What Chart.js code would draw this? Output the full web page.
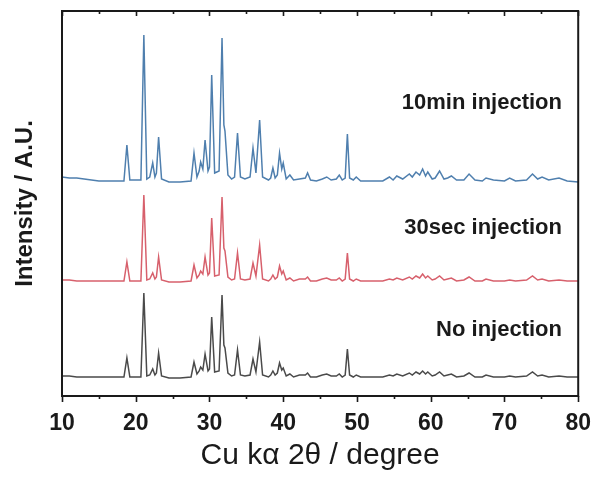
<!DOCTYPE html>
<html>
<head>
<meta charset="utf-8">
<script src="https://cdn.jsdelivr.net/npm/chart.js@4.4.0/dist/chart.umd.min.js"></script>
<style>
  html, body { margin: 0; padding: 0; background: #fff; }
</style>
</head>
<body>
<canvas id="xrd" width="597" height="478"></canvas>
<script>
// 2theta positions shared by the three scans (degrees)
const twoTheta = [
  10, 11, 12, 13, 14, 15, 16, 17, 18.4,
  18.8, 19.2, 20.7, 21.1, 21.5, 21.9, 22.3, 22.6, 22.8, 23.1, 23.5, 24.5, 26, 27.5,
  27.9, 28.3, 28.6, 28.8, 29.1, 29.4, 29.8, 30.0, 30.3, 30.7, 31.3, 31.7, 31.95, 32.1, 32.5,
  33.0, 33.4, 33.8, 34.2, 34.8, 35.5, 35.9, 36.3, 36.8, 37.2, 38.0, 38.3, 38.6, 38.9, 39.2, 39.5, 39.8, 40.0, 40.4,
  40.9, 41.4, 42.2, 43.0, 43.3, 43.7, 44.5, 45.3, 45.9, 46.5, 47.2, 47.6, 48.0, 48.4, 48.7, 49.0, 49.5, 49.9, 50.5,
  52, 53.5, 54.4, 54.9, 55.4, 56.2, 57.1, 57.5, 58.0, 58.5, 58.9, 59.3, 59.6, 60.2, 60.6, 61.2, 61.8, 62.3, 62.8,
  63.5, 64.5, 65.2, 66.0, 67.0, 67.5, 68.5, 70.0, 70.7, 71.5, 73.0, 73.8, 74.5, 75.1, 76.0, 77.4, 78.5, 80
];

// intensities above each scan's own baseline (a.u.)
const min10 = [
  4, 3, 3, 2, 1, 0, 0, 0, 0,
  36, 1, 1, 146, 2, 4, 18, 4, 8, 44, 2, -1, -1, 0,
  28, 4, 10, 19, 12, 41, 10, 14, 106, 8, 10, 143, 56, 50, 6,
  2, 4, 48, 4, 2, 4, 33, 8, 61, 4, 1, 3, 13, 3, 6, 28, 12, 18, 2,
  6, 1, 2, 3, 8, 1, 0, 2, 4, 1, 2, 6, 1, 3, 47, 3, 1, 4, 0,
  0, 0, 4, 1, 5, 2, 7, 4, 9, 6, 12, 5, 9, 2, 3, 10, 2, 3, 5,
  1, 1, 7, 1, 0, 3, 1, 0, 3, 0, 1, 7, 2, 4, 1, 3, 0, -1
];
const sec30 = [
  1, 1, 0, 0, 0, 0, 0, 0, 0,
  19, 0, 0, 86, 1, 2, 8, 2, 4, 24, 1, -1, -1, 0,
  16, 3, 6, 10, 7, 24, 6, 8, 63, 5, 6, 84, 33, 30, 4,
  1, 2, 28, 2, 1, 2, 18, 5, 36, 2, 0, 2, 6, 2, 4, 15, 7, 10, 1,
  3, 0, 2, 2, 4, 0, 0, 2, 3, 1, 1, 3, 0, 2, 28, 2, 0, 2, 0,
  0, 0, 2, 1, 3, 1, 4, 2, 5, 3, 7, 3, 5, 1, 2, 5, 1, 2, 3,
  0, 1, 4, 0, 0, 2, 0, 0, 1, 0, 1, 5, 1, 2, 0, 1, 0, 0
];
const noInj = [
  1, 1, 0, 0, 0, 0, 0, 0, 0,
  19, 0, 0, 84, 1, 2, 8, 2, 4, 24, 1, -1, -1, 0,
  15, 3, 6, 10, 7, 23, 6, 8, 60, 5, 6, 82, 32, 29, 4,
  1, 2, 27, 2, 1, 2, 18, 5, 35, 2, 0, 2, 6, 2, 4, 14, 7, 9, 1,
  3, 0, 2, 2, 4, 0, 0, 2, 3, 1, 1, 3, 0, 2, 28, 2, 0, 2, 0,
  0, 0, 2, 1, 3, 1, 4, 2, 5, 3, 6, 3, 5, 1, 2, 5, 1, 2, 3,
  0, 1, 4, 0, 0, 2, 0, 0, 1, 0, 1, 5, 1, 2, 0, 1, 0, 0
];

// vertical stacking offsets (a.u.)
const offsets = [215, 115, 19];
const labels = ['10min injection', '30sec injection', 'No injection'];
const colors = ['#4f7fae', '#d7606c', '#4a4a4a'];
const xTicks = [10, 20, 30, 40, 50, 60, 70, 80];

const series = [min10, sec30, noInj];

const toPoints = (vals, off) => twoTheta.map((x, i) => ({ x: x, y: vals[i] + off }));

// Frame, tick marks and the text labels next to each scan
const framePlugin = {
  id: 'frame',
  afterDraw: (chart) => {
    const { ctx, chartArea: a, scales } = chart;
    const xs = scales.x;
    const ys = scales.y;
    ctx.save();
    ctx.strokeStyle = '#1a1a1a';
    ctx.lineWidth = 2;
    ctx.strokeRect(a.left, a.top, a.right - a.left, a.bottom - a.top);
    ctx.lineWidth = 1.6;
    for (let v = 10; v <= 80; v += 5) {
      const px = Math.round(xs.getPixelForValue(v)) + 0.5;
      const major = v % 10 === 0;
      ctx.beginPath();
      ctx.moveTo(px, a.bottom);
      ctx.lineTo(px, a.bottom + (major ? 6 : 3));
      ctx.moveTo(px, a.top);
      ctx.lineTo(px, a.top + (major ? 5 : 3));
      ctx.stroke();
    }
    ctx.fillStyle = '#1a1a1a';
    ctx.font = 'bold 22px "Liberation Sans", Arial, sans-serif';
    ctx.textAlign = 'right';
    ctx.textBaseline = 'middle';
    // label heights above each scan's baseline
    const labelY = [78, 53, 47];
    labels.forEach((t, i) => {
      ctx.fillText(t, xs.getPixelForValue(77.8), ys.getPixelForValue(offsets[i] + labelY[i]));
    });
    ctx.restore();
  }
};

const ctx = document.getElementById('xrd').getContext('2d');
new Chart(ctx, {
  type: 'line',
  data: {
    datasets: series.map((vals, i) => ({
      label: labels[i],
      data: toPoints(vals, offsets[i]),
      borderColor: colors[i],
      borderWidth: 1.5,
      pointRadius: 0,
      tension: 0,
      fill: false,
    })),
  },
  options: {
    responsive: false,
    animation: false,
    layout: { padding: { left: 0, right: 18, top: 11, bottom: 0 } },
    scales: {
      x: {
        type: 'linear',
        min: 10,
        max: 80,
        afterBuildTicks: (s) => { s.ticks = xTicks.map(v => ({ value: v })); },
        ticks: {
          padding: 6,
          color: '#1a1a1a',
          font: { family: '"Liberation Sans", Arial, sans-serif', size: 23, weight: 'bold' },
        },
        grid: { display: false },
        border: { display: false },
        title: {
          display: true,
          text: 'Cu kα 2θ / degree',
          color: '#1a1a1a',
          font: { family: '"Liberation Sans", Arial, sans-serif', size: 30 },
          padding: { top: 0, bottom: 4 },
        },
        afterFit: (s) => { s.height = 82; },
      },
      y: {
        min: 0,
        max: 385,
        ticks: { display: false },
        grid: { display: false },
        border: { display: false },
        title: {
          display: true,
          text: 'Intensity / A.U.',
          color: '#1a1a1a',
          font: { family: '"Liberation Sans", Arial, sans-serif', size: 24, weight: 'bold' },
          padding: { top: 11, bottom: 0 },
        },
        afterFit: (s) => { s.width = 62; },
      },
    },
    plugins: {
      legend: { display: false },
      tooltip: { enabled: false },
    },
  },
  plugins: [framePlugin],
});
</script>
</body>
</html>
